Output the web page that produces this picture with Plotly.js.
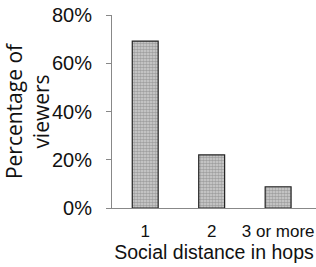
<!DOCTYPE html>
<html><head><meta charset="utf-8">
<script src="https://cdn.plot.ly/plotly-3.0.1.min.js"></script>
<style>html,body{margin:0;padding:0;background:#fff}#c{width:316px;height:267px}</style>
</head><body><div id="c"></div>
<script>
var categories = ['1', '2', '3 or more'];
var percentViewers = [69.2, 22, 8.8];
var yTickVals = [0, 20, 40, 60, 80];

var narrow = 'Liberation Sans Narrow, Arial Narrow, sans-serif';
var trace = {
  type: 'bar', x: categories, y: percentViewers, width: 0.39,
  marker: {
    color: '#c6c6c6',
    line: {color: '#222', width: 1.2},
    pattern: {shape: '.', fgcolor: '#a0a0a0', bgcolor: '#d4d4d4', size: 3, solidity: 0.6, fillmode: 'replace'}
  },
  hoverinfo: 'none'
};
var layout = {
  width: 316, height: 267,
  margin: {l: 112, r: 0, t: 15, b: 59},
  paper_bgcolor: '#fff', plot_bgcolor: '#fff',
  showlegend: false,
  xaxis: {
    type: 'category', range: [-0.5, 2.57], automargin: false,
    showline: true, linecolor: '#888', linewidth: 1, ticks: '', showgrid: false,
    ticklabelstandoff: 8,
    tickfont: {family: narrow, size: 17, color: '#111'},
    title: {text: 'Social distance in hops', font: {family: narrow, size: 19.5, color: '#111'}, standoff: 4}
  },
  yaxis: {
    range: [0, 80], tickvals: yTickVals, ticktext: yTickVals.map(function(v){return v + '%';}),
    automargin: false, showline: true, linecolor: '#888', linewidth: 1,
    ticks: 'outside', ticklen: 5, tickcolor: '#888', showgrid: false, zeroline: false,
    ticklabelstandoff: 10,
    tickfont: {family: narrow, size: 20, color: '#111'},
    title: {text: 'Percentage of<br>viewers', font: {family: 'Open Sans, sans-serif', size: 21, color: '#111'}, standoff: 8}
  }
};
Plotly.newPlot('c', [trace], layout, {staticPlot: true, displayModeBar: false});
</script></body></html>
